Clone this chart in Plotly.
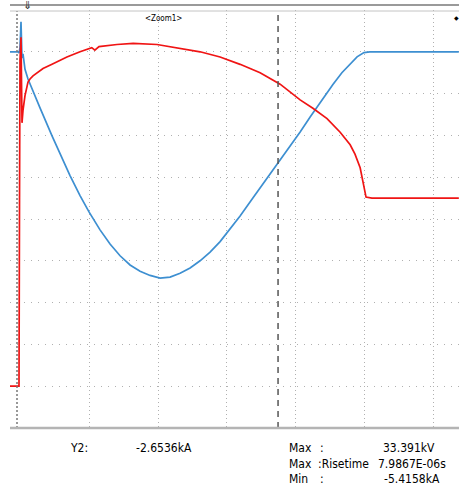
import plotly.graph_objects as go

# ---- data (time in microseconds, current in kA, voltage in kV) ----
t_current = [-2.90, -0.58, -0.29, 0.0, 0.29, 0.43, 0.58, 0.87, 1.45, 2.32, 2.90, 3.77,
             5.80, 9.28, 11.6, 14.5, 17.4, 20.0, 23.2, 26.1, 29.0, 31.9, 34.8, 37.7,
             40.6, 43.5, 46.4, 49.3, 52.2, 55.1, 58.0, 63.8, 67.5, 71.0, 74.8, 77.7,
             81.2, 84.1, 87.5, 90.7, 93.3, 95.7, 97.7, 99.7, 101.4, 110.0, 120.0, 127.2]
current_kA = [0.0, 0.0, -0.03, 0.10, 0.72, 0.20, -0.15, -0.05, -0.42, -0.65, -0.77, -0.94,
              -1.34, -2.01, -2.45, -2.96, -3.44, -3.83, -4.26, -4.60, -4.88, -5.10, -5.25, -5.35,
              -5.4158, -5.39, -5.30, -5.17, -5.00, -4.79, -4.54, -3.93, -3.50, -3.10, -2.6536, -2.34,
              -1.92, -1.56, -1.15, -0.78, -0.50, -0.28, -0.12, -0.02, 0.0, 0.0, 0.0, 0.0]

t_voltage = [-2.90, -0.29, -0.14, 0.0, 0.29, 0.43, 0.58, 0.87, 1.45, 2.32, 2.90, 3.77,
             6.67, 9.28, 13.6, 17.4, 19.7, 20.8, 21.7, 22.9, 28.1, 32.8, 39.7, 46.4,
             52.2, 58.0, 63.8, 69.6, 75.4, 81.2, 84.9, 89.0, 92.8, 95.7, 97.1, 98.6,
             99.4, 100.0, 100.3, 102.0, 110.0, 120.0, 127.2]
voltage_kV = [0.0, 0.0, 17.8, 31.2, 33.391, 27.4, 25.2, 26.4, 27.8, 29.1, 29.4, 29.7,
              30.4, 30.8, 31.5, 32.0, 32.3, 32.4, 32.15, 32.5, 32.7, 32.8, 32.7, 32.3,
              32.0, 31.5, 30.8, 30.0, 28.9, 27.4, 26.6, 25.6, 24.3, 23.1, 22.2, 20.9,
              19.7, 18.8, 18.1, 18.0, 18.0, 18.0, 18.0]

grid_t = [20, 40, 60, 80, 100, 120]
grid_i = [-8, -7, -6, -5, -4, -3, -2, -1, 0]
cursor_t = 74.8

readout_left = [("Y2:", 68), ("-2.6536kA", 134)]
readout_right = [
    [("Max", 287), (":", 318), ("33.391kV", 381)],
    [("Max", 287), (":Risetime", 316), ("7.9867E-06s", 376)],
    [("Min", 287), (":", 318), ("-5.4158kA", 382)],
]

W, H = 459, 488
FONT = "Liberation Sans Narrow, DejaVu Sans Condensed, Arial Narrow, sans-serif"

fig = go.Figure()
fig.add_trace(go.Scatter(x=t_voltage, y=voltage_kV, mode="lines", yaxis="y2",
                         line=dict(color="#f01414", width=1.7), showlegend=False,
                         hoverinfo="skip"))
fig.add_trace(go.Scatter(x=t_current, y=current_kA, mode="lines", yaxis="y",
                         line=dict(color="#3d8fd1", width=1.7), showlegend=False,
                         hoverinfo="skip"))

def px(x):
    return x / W

def py(y):
    return 1 - y / H

shapes = []
# left axis (dotted)
shapes.append(dict(type="line", xref="x", yref="paper", x0=-0.87, x1=-0.87,
                   y0=py(428), y1=py(11), line=dict(color="#777777", width=1.5, dash="2px,2px")))
# cursor
shapes.append(dict(type="line", xref="x", yref="paper", x0=cursor_t, x1=cursor_t,
                   y0=py(428), y1=py(11), line=dict(color="#555555", width=1.5, dash="6px,5px")))
# top bars
shapes.append(dict(type="line", xref="paper", yref="paper", x0=px(10), x1=1, y0=py(5), y1=py(5),
                   line=dict(color="#9a9a9a", width=2)))
shapes.append(dict(type="line", xref="paper", yref="paper", x0=px(10), x1=1, y0=py(11), y1=py(11),
                   line=dict(color="#c4c4c4", width=1)))
# bottom bar
shapes.append(dict(type="line", xref="paper", yref="paper", x0=px(10), x1=1, y0=py(428), y1=py(428),
                   line=dict(color="#b4b4b4", width=2.5)))

annotations = []
annotations.append(dict(text="⇓", x=px(27), y=py(6), xref="paper", yref="paper",
                        showarrow=False, font=dict(family="DejaVu Sans", size=11, color="#333333"),
                        xanchor="center", yanchor="middle"))
annotations.append(dict(text="&lt;Zoom1&gt;", x=px(143), y=py(19), xref="paper", yref="paper",
                        showarrow=False, font=dict(family=FONT, size=8, color="#000000"),
                        xanchor="left", yanchor="middle"))
annotations.append(dict(text="◆", x=px(456), y=py(18), xref="paper", yref="paper",
                        showarrow=False, font=dict(family="DejaVu Sans", size=6, color="#000000"),
                        xanchor="center", yanchor="middle"))
for txt, x in readout_left:
    annotations.append(dict(text=txt, x=px(x), y=py(448), xref="paper", yref="paper",
                            showarrow=False, font=dict(family=FONT, size=12, color="#000000"),
                            xanchor="left", yanchor="middle"))
for row, yy in zip(readout_right, [448, 464, 479]):
    for txt, x in row:
        annotations.append(dict(text=txt, x=px(x), y=py(yy), xref="paper", yref="paper",
                                showarrow=False, font=dict(family=FONT, size=12, color="#000000"),
                                xanchor="left", yanchor="middle"))

fig.update_layout(
    width=W, height=H, margin=dict(l=0, r=0, t=0, b=0),
    paper_bgcolor="white", plot_bgcolor="white",
    xaxis=dict(domain=[10 / W, 1], range=[-2.899, 127.25], tickvals=grid_t,
               showticklabels=False, ticks="", showgrid=True, gridcolor="#b0b0b0",
               gridwidth=1, griddash="1px,3px", zeroline=False, showline=False),
    yaxis=dict(domain=[60 / H, 478 / H], range=[-9, 1], tickvals=grid_i,
               showticklabels=False, ticks="", showgrid=True, gridcolor="#b0b0b0",
               gridwidth=1, griddash="1px,6px", zeroline=False, showline=False),
    yaxis2=dict(domain=[60 / H, 478 / H], range=[-4, 36], overlaying="y",
                showticklabels=False, ticks="", showgrid=False, zeroline=False, showline=False),
    shapes=shapes, annotations=annotations,
)

fig.write_html("out.html", config=dict(displayModeBar=False, staticPlot=True),
               post_script="document.body.style.margin='0';document.body.style.padding='0';"
                           "document.body.style.overflow='hidden';")
